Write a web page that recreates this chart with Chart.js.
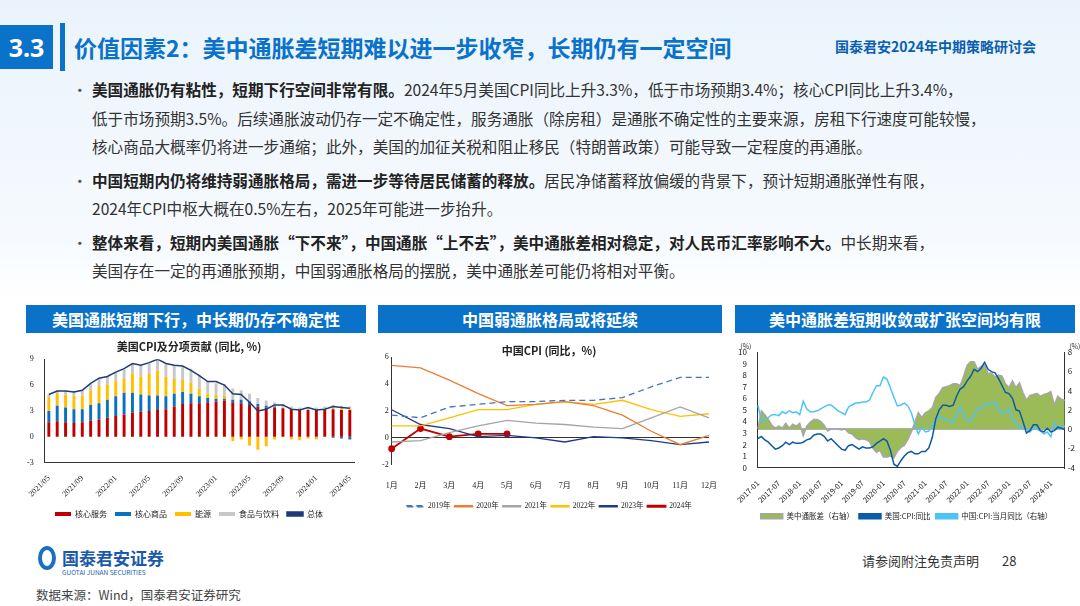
<!DOCTYPE html>
<html><head><meta charset="utf-8">
<script src="https://cdn.jsdelivr.net/npm/chart.js@4"></script>
<style>
body{margin:0;width:1080px;height:606px;overflow:hidden;position:relative;font-family:"Noto Sans CJK SC","Noto Sans",sans-serif;background:linear-gradient(#eaf3fc 0,#f6fafe 240px,#fff 300px);}
.abs{position:absolute}
#num{left:0;top:25px;width:53px;height:44px;background:#0a72c8;color:#fff;font:bold 25px "Noto Sans",sans-serif;line-height:44px;text-align:center}
#bar{left:60px;top:23px;width:5px;height:48px;background:#0a72c8}
#title{left:74px;top:28px;font-size:23px;font-weight:bold;color:#0a72c8;line-height:38px}
#conf{left:835px;top:36px;font-size:14px;font-weight:bold;color:#0a5fb0}
ul{position:absolute;left:70px;top:75px;margin:0;padding:0;list-style:none;width:1000px;color:#333;font-size:15.6px;line-height:28.5px;white-space:nowrap}
li{padding-left:22px;position:relative;margin-bottom:5px}
li:before{content:"•";position:absolute;left:2px;color:#555}
b{color:#222}
.hd{top:305px;height:28px;background:#0a72c8;color:#fff;font-weight:bold;font-size:16px;line-height:28px;text-align:center}
canvas{position:absolute}
#foot1{left:862px;top:551px;font-size:13px;color:#333}
#foot2{left:1002px;top:551px;font-size:13px;color:#333}
#src{left:36px;top:585px;font-size:12.5px;color:#444}
#logo{left:38px;top:545px;font-size:17px;font-weight:bold;color:#1a5aa8}
#logo small{display:block;font-size:6.5px;font-weight:normal;margin-top:-3px}
#ring{left:38px;top:546px;width:18px;height:24px;border:4px solid #1a6fc0;border-radius:50%;box-sizing:border-box}
</style></head><body>
<div class="abs" id="num">3.3</div><div class="abs" id="bar"></div>
<div class="abs" id="title">价值因素2：美中通胀差短期难以进一步收窄，长期仍有一定空间</div>
<div class="abs" id="conf">国泰君安2024年中期策略研讨会</div>
<ul>
<li><b>美国通胀仍有粘性，短期下行空间非常有限。</b>2024年5月美国CPI同比上升3.3%，低于市场预期3.4%；核心CPI同比上升3.4%，<br>低于市场预期3.5%。后续通胀波动仍存一定不确定性，服务通胀（除房租）是通胀不确定性的主要来源，房租下行速度可能较慢，<br>核心商品大概率仍将进一步通缩；此外，美国的加征关税和阻止移民（特朗普政策）可能导致一定程度的再通胀。</li>
<li><b>中国短期内仍将维持弱通胀格局，需进一步等待居民储蓄的释放。</b>居民净储蓄释放偏缓的背景下，预计短期通胀弹性有限，<br>2024年CPI中枢大概在0.5%左右，2025年可能进一步抬升。</li>
<li><b>整体来看，短期内美国通胀“下不来”，中国通胀“上不去”，美中通胀差相对稳定，对人民币汇率影响不大。</b>中长期来看，<br>美国存在一定的再通胀预期，中国弱通胀格局的摆脱，美中通胀差可能仍将相对平衡。</li>
</ul>
<div class="abs hd" style="left:26px;width:340px">美国通胀短期下行，中长期仍存不确定性</div>
<div class="abs hd" style="left:378px;width:344px">中国弱通胀格局或将延续</div>
<div class="abs hd" style="left:735px;width:340px">美中通胀差短期收敛或扩张空间均有限</div>
<canvas id="c1" class="abs" style="left:20px;top:338px;width:340px;height:190px"></canvas>
<canvas id="c2" class="abs" style="left:375px;top:340px;width:350px;height:180px"></canvas>
<canvas id="c3" class="abs" style="left:735px;top:340px;width:345px;height:190px"></canvas>
<div class="abs" id="ring"></div>
<div class="abs" id="logo" style="left:62px">国泰君安证券<small>GUOTAI JUNAN SECURITIES</small></div>
<div class="abs" id="foot1">请参阅附注免责声明</div><div class="abs" id="foot2">28</div>
<div class="abs" id="src">数据来源：Wind，国泰君安证券研究</div>
<script>
// chart 1: US CPI contributions, 2021/05 - 2024/05
var usMonths = [];
for (var y = 2021, m = 5; y < 2024 || (y == 2024 && m <= 5); m++) {
  if (m > 12) { m = 1; y++; }
  usMonths.push(y + '/' + (m < 10 ? '0' + m : m));
}
var coreServices = [1.7,1.8,1.7,1.6,1.7,1.9,2.0,2.2,2.4,2.6,2.8,2.9,3.0,3.2,3.2,3.5,3.8,3.9,3.9,4.0,4.1,4.2,4.0,3.9,3.7,3.5,3.4,3.4,3.3,3.2,3.1,3.1,3.1,3.1,3.2,3.1,3.1];
var coreGoods = [1.3,1.8,1.7,1.6,1.5,1.8,1.9,2.1,2.3,2.5,2.3,2.0,1.8,1.6,1.5,1.5,1.4,1.1,0.8,0.5,0.3,0.2,0.3,0.4,0.4,0.3,0.2,0.1,0.0,0.0,0.0,0.0,0.0,0.0,-0.1,-0.2,-0.3];
var energy = [1.6,1.5,1.5,1.6,1.6,1.7,2.0,1.8,1.8,1.6,2.2,2.1,2.5,2.9,2.3,1.7,1.4,1.3,0.9,0.5,0.5,0.4,-0.5,-0.3,-1.0,-1.5,-1.1,-0.3,0.1,-0.3,-0.4,-0.2,-0.3,0.1,0.2,0.2,0.1];
var foodBev = [0.3,0.3,0.4,0.5,0.6,0.7,0.9,0.9,1.0,1.1,1.1,1.3,1.2,1.3,1.4,1.5,1.5,1.6,1.5,1.4,1.3,1.3,1.3,1.1,0.9,0.7,0.6,0.5,0.4,0.3,0.3,0.3,0.3,0.3,0.3,0.3,0.3];
var usTotal = [4.9,5.3,5.3,5.2,5.4,6.2,6.8,7.0,7.5,7.9,8.5,8.3,8.6,9.0,8.5,8.3,8.2,7.7,7.1,6.4,6.4,6.0,5.0,4.9,4.0,3.0,3.2,3.7,3.7,3.2,3.1,3.4,3.1,3.2,3.5,3.4,3.3];

// chart 2: China CPI by year
var cnMonths = ['1月','2月','3月','4月','5月','6月','7月','8月','9月','10月','11月','12月'];
var cn2019 = [1.7,1.5,2.3,2.5,2.7,2.7,2.8,2.8,3.0,3.8,4.5,4.5];
var cn2020 = [5.4,5.2,4.3,3.3,2.4,2.5,2.7,2.4,1.7,0.5,-0.5,0.2];
var cn2021 = [-0.3,-0.2,0.4,0.9,1.3,1.1,1.0,0.8,0.7,1.5,2.3,1.5];
var cn2022 = [0.9,0.9,1.5,2.1,2.1,2.5,2.7,2.5,2.8,2.1,1.6,1.8];
var cn2023 = [2.1,1.0,0.7,0.1,0.2,0.0,-0.3,0.1,0.0,-0.2,-0.5,-0.3];
var cn2024 = [-0.8,0.7,0.1,0.3,0.3];

// chart 3: 2017-01 - 2024-05
var longMonths = [];
for (var y2 = 2017, m2 = 1; y2 < 2024 || (y2 == 2024 && m2 <= 5); m2++) {
  if (m2 > 12) { m2 = 1; y2++; }
  longMonths.push(y2 + '-' + (m2 < 10 ? '0' + m2 : m2));
}
var usCpi = [2.5,2.7,2.4,2.2,1.9,1.6,1.7,1.9,2.2,2.0,2.2,2.1, 2.1,2.2,2.4,2.5,2.8,2.9,2.9,2.7,2.3,2.5,2.2,1.9, 1.6,1.5,1.9,2.0,1.8,1.6,1.8,1.7,1.7,1.8,2.1,2.3, 2.5,2.3,1.5,0.3,0.1,0.6,1.0,1.3,1.4,1.2,1.2,1.4, 1.4,1.7,2.6,4.2,5.0,5.4,5.4,5.3,5.4,6.2,6.8,7.0, 7.5,7.9,8.5,8.3,8.6,9.1,8.5,8.3,8.2,7.7,7.1,6.5, 6.4,6.0,5.0,4.9,4.0,3.0,3.2,3.7,3.7,3.2,3.1,3.4, 3.1,3.2,3.5,3.4,3.3];
var cnCpi = [2.5,0.8,0.9,1.2,1.5,1.5,1.4,1.8,1.6,1.9,1.7,1.8, 1.5,2.9,2.1,1.8,1.8,1.9,2.1,2.3,2.5,2.5,2.2,1.9].concat(cn2019, cn2020, cn2021, cn2022, cn2023, cn2024);
var cpiGap = [0.0,1.9,1.5,1.0,0.4,0.1,0.3,0.1,0.6,0.1,0.5,0.3, 0.6,-0.7,0.3,0.7,1.0,1.0,0.8,0.4,-0.2,0.0,0.0,0.0, -0.1,0.0,-0.4,-0.5,-0.9,-1.1,-1.0,-1.1,-1.3,-2.0,-2.4,-2.2, -2.9,-2.9,-2.8,-3.0,-2.3,-1.9,-1.7,-1.1,-0.3,0.7,1.7,1.2, 1.7,1.9,2.2,3.3,3.7,4.3,4.4,4.5,4.7,4.7,4.5,5.5, 6.6,7.0,7.0,6.2,6.5,6.6,5.8,5.8,5.4,5.6,5.5,4.7, 4.3,5.0,4.3,4.8,3.8,3.0,3.5,3.6,3.7,3.4,3.6,3.7, 3.9,2.5,3.4,3.1,3.0];

Chart.defaults.animation = false;
Chart.defaults.font.family = '"Noto Sans CJK SC", sans-serif';
Chart.defaults.font.size = 9;
Chart.defaults.color = '#222';

var serif = {family: '"Liberation Serif","Noto Sans CJK SC",serif', size: 8};
var byIndex = function (a, b) { return a.datasetIndex - b.datasetIndex; };

new Chart(document.getElementById('c1'), {
  data: {
    labels: usMonths,
    datasets: [
      {type: 'bar', label: '核心服务', data: coreServices, backgroundColor: '#c00000', stack: 's', order: 1},
      {type: 'bar', label: '核心商品', data: coreGoods, backgroundColor: '#0a70c0', stack: 's', order: 1},
      {type: 'bar', label: '能源', data: energy, backgroundColor: '#ffc000', stack: 's', order: 1},
      {type: 'bar', label: '食品与饮料', data: foodBev, backgroundColor: '#c8c8c8', stack: 's', order: 1},
      {type: 'line', label: '总体', data: usTotal, borderColor: '#1f3a7a', backgroundColor: '#1f3a7a', borderWidth: 1.5, pointRadius: 0, order: 0}
    ]
  },
  options: {
    responsive: false, maintainAspectRatio: false,
    layout: {padding: {left: 4, right: 6}},
    datasets: {bar: {barPercentage: 0.35, categoryPercentage: 1}},
    plugins: {
      title: {display: true, text: '美国CPI及分项贡献 (同比, %)', font: {size: 11, weight: 'bold'}, padding: {top: 2, bottom: 6}},
      legend: {position: 'bottom', labels: {boxWidth: 16, boxHeight: 4, padding: 8, font: {size: 8}, sort: byIndex}}
    },
    scales: {
      x: {stacked: true, grid: {display: false}, border: {color: '#333'},
        ticks: {autoSkip: false, maxRotation: 45, minRotation: 45, font: serif,
          callback: function (v, i) { return i % 4 == 0 ? usMonths[i] : null; }}},
      y: {stacked: true, min: -3, max: 9, ticks: {stepSize: 3, font: serif}, grid: {display: false}, border: {color: '#333'}}
    }
  }
});

new Chart(document.getElementById('c2'), {
  type: 'line',
  data: {
    labels: cnMonths,
    datasets: [
      {label: '2019年', data: cn2019, borderColor: '#4472c4', borderDash: [6, 4]},
      {label: '2020年', data: cn2020, borderColor: '#ed7d31'},
      {label: '2021年', data: cn2021, borderColor: '#a5a5a5'},
      {label: '2022年', data: cn2022, borderColor: '#ffc000'},
      {label: '2023年', data: cn2023, borderColor: '#1f3c88'},
      {label: '2024年', data: cn2024, borderColor: '#c00000', backgroundColor: '#c00000', pointRadius: 2.5, borderWidth: 1.8}
    ]
  },
  options: {
    responsive: false, maintainAspectRatio: false,
    datasets: {line: {borderWidth: 1.3, pointRadius: 0, tension: 0}},
    layout: {padding: {left: 4, right: 6}},
    plugins: {
      title: {display: true, text: '中国CPI (同比，%)', font: {size: 11, weight: 'bold'}, padding: {top: 4, bottom: 0}},
      legend: {position: 'bottom', labels: {boxWidth: 18, boxHeight: 1, padding: 4, font: {family: serif.family, size: 7.5}}}
    },
    scales: {
      x: {grid: {display: false}, border: {display: false}, ticks: {font: serif, padding: 8}},
      y: {min: -2, max: 6, ticks: {stepSize: 2, font: serif}, border: {color: '#333'},
        grid: {drawTicks: false, color: function (ctx) { return ctx.tick.value === 0 ? '#333' : 'rgba(0,0,0,0)'; }}}
    }
  }
});

new Chart(document.getElementById('c3'), {
  type: 'line',
  data: {
    labels: longMonths,
    datasets: [
      {label: '美中通胀差（右轴）', data: cpiGap, yAxisID: 'y1', fill: 'origin', backgroundColor: '#9bbb59', borderColor: '#a6a6a6', borderWidth: 1.5, order: 3},
      {label: '美国:CPI:同比', data: usCpi, yAxisID: 'y', borderColor: '#0d5aa7', backgroundColor: '#0d5aa7', borderWidth: 1.5, order: 1},
      {label: '中国:CPI:当月同比（右轴）', data: cnCpi, yAxisID: 'y1', borderColor: '#4fc3f7', backgroundColor: '#4fc3f7', borderWidth: 1.5, order: 2}
    ]
  },
  options: {
    responsive: false, maintainAspectRatio: false,
    datasets: {line: {pointRadius: 0, tension: 0}},
    layout: {padding: {top: 12, right: 2}},
    plugins: {
      legend: {position: 'bottom', labels: {boxWidth: 22, boxHeight: 5, padding: 5, font: {size: 7.5}, sort: byIndex}}
    },
    scales: {
      x: {grid: {display: false}, border: {color: '#333'},
        ticks: {autoSkip: false, maxRotation: 45, minRotation: 45, font: {size: 7.5},
          callback: function (v, i) { return i % 6 == 0 ? longMonths[i] : null; }}},
      y: {min: 0, max: 10, ticks: {stepSize: 1, autoSkip: false, font: {size: 8}}, grid: {display: false}, border: {color: '#333'}},
      y1: {position: 'right', min: -4, max: 8, ticks: {stepSize: 2, autoSkip: false, font: {size: 8}}, border: {color: '#333'},
        grid: {drawTicks: false, lineWidth: 2, color: function (ctx) { return ctx.tick.value === 0 ? '#b0b0b0' : 'rgba(0,0,0,0)'; }}}
    }
  },
  plugins: [{
    id: 'pct',
    afterDraw: function (chart) {
      var c = chart.ctx, a = chart.chartArea;
      c.save(); c.font = '7px "Noto Sans CJK SC"'; c.fillStyle = '#333'; c.textAlign = 'center';
      c.fillText('(%)', a.left - 12, a.top - 6); c.fillText('(%)', a.right + 10, a.top - 6);
      c.restore();
    }
  }]
});
</script>
</body></html>
